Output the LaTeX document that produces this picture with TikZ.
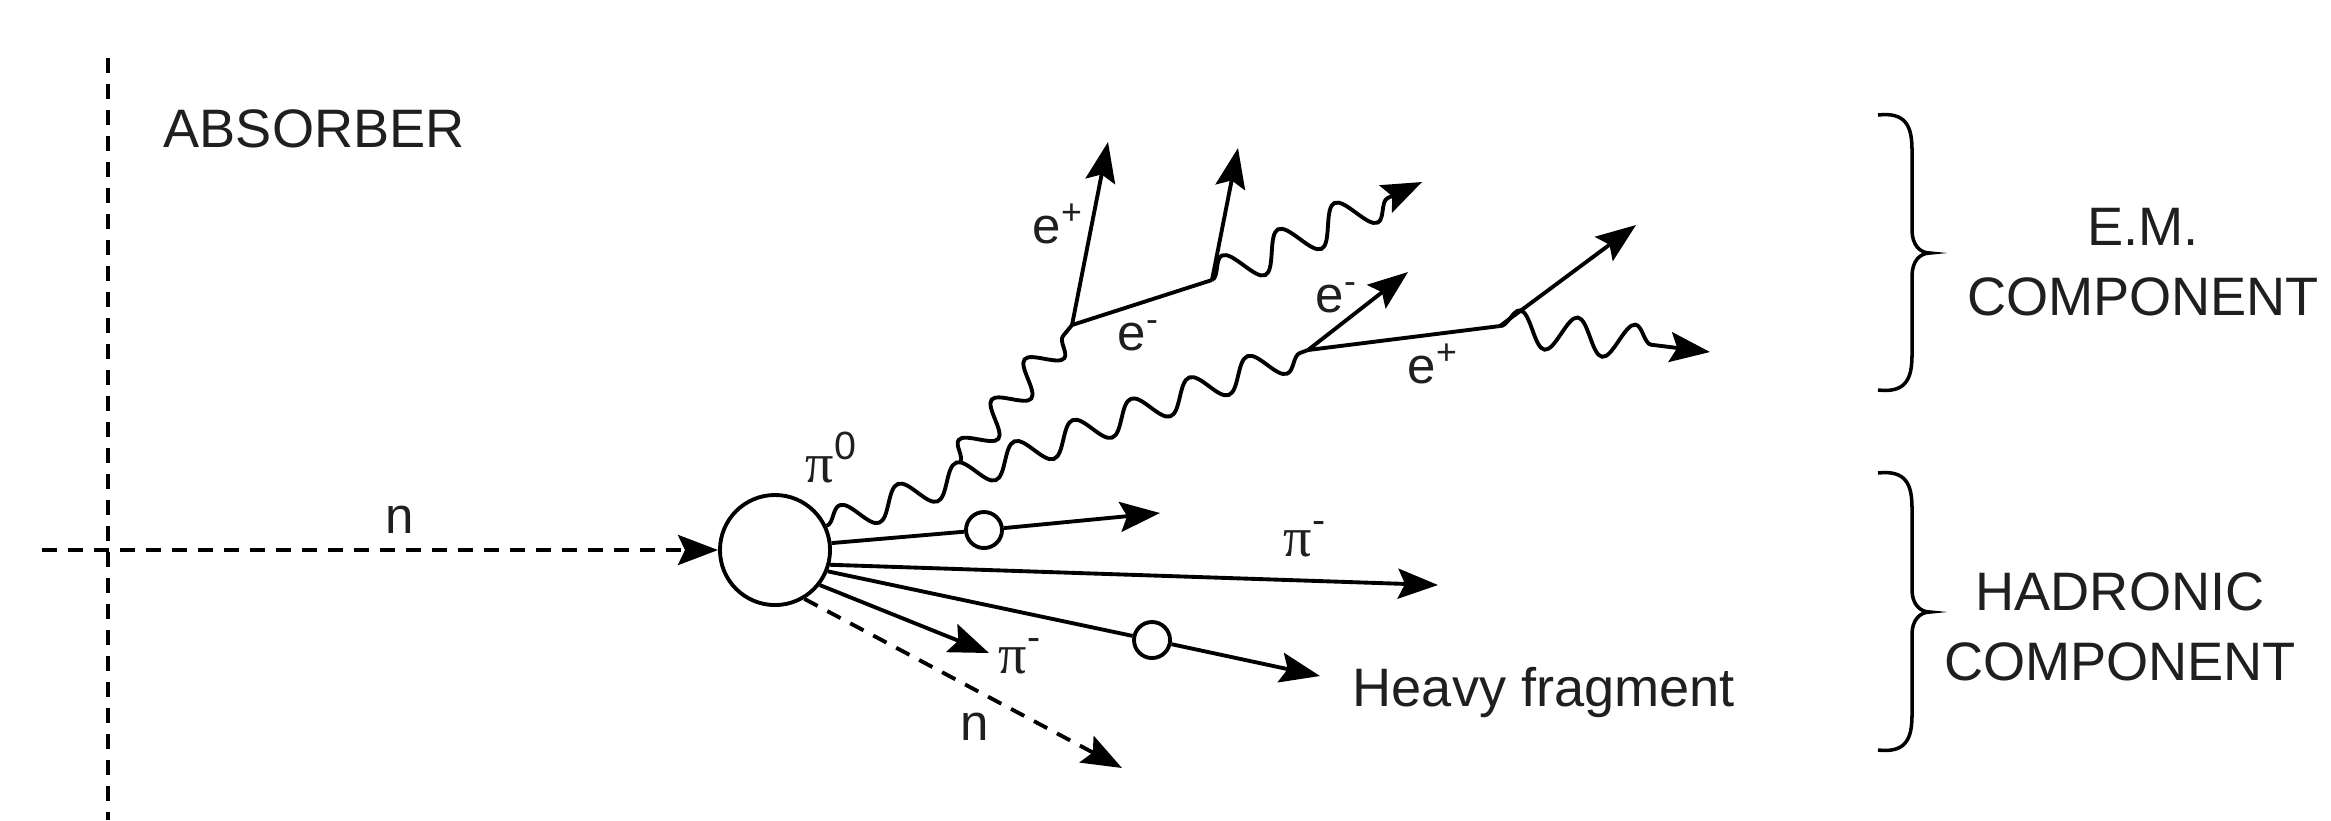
\documentclass[tikz,border=0pt]{standalone}
\usepackage{fontspec}
\setmainfont{Liberation Sans}
\newfontfamily\grk{Liberation Serif}
\usetikzlibrary{arrows.meta,decorations.pathmorphing}
\begin{document}
\begin{tikzpicture}[x=0.01cm,y=-0.01cm,
  lbl/.style={font=\fontsize{14.5}{17}\selectfont, inner sep=0, text=black!88},
  pil/.style={font=\fontsize{16}{18}\selectfont, inner sep=0, text=black!88},
  big/.style={font=\fontsize{15.4}{20}\selectfont, align=center, inner sep=0, text=black!88},
  trk/.style={line width=1.1pt},
  tipa/.style={-{Stealth[length=0.4cm,width=0.3cm,inset=0.07cm]}},
  arr/.style={trk, tipa},
  dsh/.style={line width=1.1pt, dash pattern=on 0.15cm off 0.11cm},
  wave/.style={trk, decorate, decoration={snake, amplitude=0.15cm, segment length=0.62cm}},
  wavearr/.style={trk, decorate, decoration={snake, amplitude=0.18cm, segment length=0.62cm, post length=0.32cm}, tipa},
  blob/.style={circle, draw, line width=1.1pt, fill=white, inner sep=0}]
\useasboundingbox[fill=white] (0,0) rectangle (2331,820);

% absorber boundary
\coordinate (vt) at (108,58);
\coordinate (vb) at (108,820);
\draw[dsh] (vt) -- (vb);
\node[big, anchor=west] (absorber) at (163,129) {ABSORBER};

% interaction
\node[blob, minimum size=1.1cm] (core) at (775,550) {};
\coordinate (nin) at (42,550);
\draw[dsh, tipa] (nin) -- (core);
\node[lbl, anchor=base west] (nlab) at (385,533) {n};

% EM component
\coordinate (A) at (1072,325);
\coordinate (C) at (1212,280);
\coordinate (B) at (1308,350);
\coordinate (D) at (1500,326);
\coordinate (J) at (960,462);
\coordinate (eA) at (1108,142);
\coordinate (eC) at (1238,148);
\coordinate (gC) at (1422,182);
\coordinate (eB) at (1408,272);
\coordinate (eD) at (1636,225);
\coordinate (gD) at (1710,352);

\draw[wave] (core.25) -- (B);
\draw[wave, decoration={segment length=0.52cm}] (J) -- (A);
\draw[arr] (A) -- (eA);
\draw[trk] (A) -- (C);
\draw[arr] (C) -- (eC);
\draw[wavearr] (C) -- (gC);
\draw[arr] (B) -- (eB);
\draw[trk] (B) -- (D);
\draw[arr] (D) -- (eD);
\draw[wavearr, decoration={segment length=0.58cm}] (D) -- (gD);

\node[pil, anchor=base west] (pi0) at (805,482) {{\grk π}\textsuperscript{0}};
\node[lbl, anchor=base west] (ep1) at (1032,243) {e\textsuperscript{+}};
\node[lbl, anchor=base west] (em1) at (1117,350) {e\textsuperscript{-}};
\node[lbl, anchor=base west] (em2) at (1315,312) {e\textsuperscript{-}};
\node[lbl, anchor=base west] (ep2) at (1407,383) {e\textsuperscript{+}};

% hadronic component
\node[blob, minimum size=0.36cm] (s1) at (984,530) {};
\node[blob, minimum size=0.36cm] (s2) at (1152,640) {};
\coordinate (h1) at (1160,513);
\coordinate (h2) at (1438,585);
\coordinate (h3) at (1320,676);
\coordinate (h4) at (989,653);
\coordinate (nn) at (1122,768);

\draw[trk] (core.7) -- (s1);
\draw[arr] (s1) -- (h1);
\draw[arr] (core.-15) -- (h2);
\draw[trk] (core.-22) -- (s2);
\draw[arr] (s2) -- (h3);
\draw[arr] (core.-38) -- (h4);
\draw[dsh, tipa] (core.-59) -- (nn);

\node[pil, anchor=base west] (pim1) at (1283,556) {{\grk π}\textsuperscript{-}};
\node[pil, anchor=base west] (pim2) at (998,673) {{\grk π}\textsuperscript{-}};
\node[lbl, anchor=base west] (n2) at (960,740) {n};
\node[big, anchor=base west] (heavy) at (1352,706) {Heavy fragment};

% braces and component labels
\draw[line width=1pt] (1878,115) .. controls (1905,112) and (1912,125) .. (1912,150) -- (1912,230)
  .. controls (1912,245) and (1920,253) .. (1930,253)
  .. controls (1920,253) and (1912,261) .. (1912,276) -- (1912,355)
  .. controls (1912,380) and (1905,393) .. (1878,390);
\draw[line width=1pt] (1878,473) .. controls (1905,470) and (1912,483) .. (1912,508) -- (1912,590)
  .. controls (1912,604) and (1920,612) .. (1930,612)
  .. controls (1920,612) and (1912,620) .. (1912,634) -- (1912,715)
  .. controls (1912,740) and (1905,753) .. (1878,750);
\node[big] (emtxt) at (2143,262) {E.M.\\COMPONENT};
\node[big] (hadtxt) at (2120,627) {HADRONIC\\COMPONENT};
\end{tikzpicture}
\end{document}
